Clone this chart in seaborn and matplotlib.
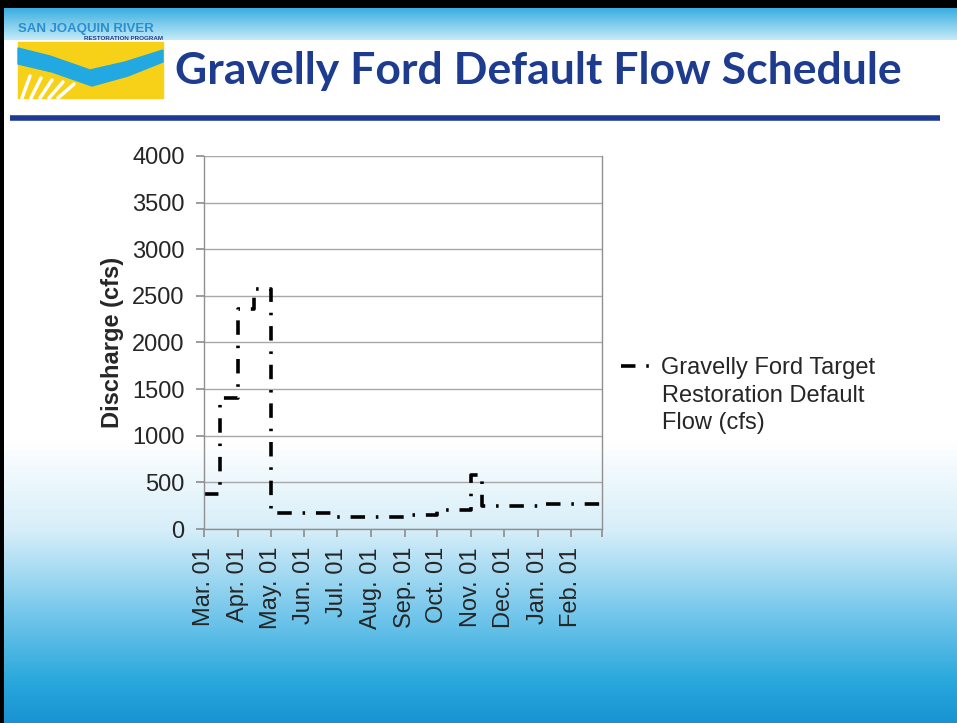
import numpy as np
import pandas as pd
import matplotlib
matplotlib.use("Agg")
import matplotlib.pyplot as plt
import seaborn as sns
from matplotlib.patches import Rectangle, Polygon

# ---------------- data ----------------
seg_starts = ["2001-03-01", "2001-03-16", "2001-04-01", "2001-04-16", "2001-05-01",
              "2001-07-01", "2001-09-01", "2001-10-01", "2001-11-01", "2001-11-11",
              "2002-01-01", "2002-03-01"]
flow_cfs = [375, 1400, 2360, 2570, 175, 130, 150, 205, 580, 245, 265, 265]
tick_labels = ["Mar. 01", "Apr. 01", "May. 01", "Jun. 01", "Jul. 01", "Aug. 01",
               "Sep. 01", "Oct. 01", "Nov. 01", "Dec. 01", "Jan. 01", "Feb. 01", ""]
tick_dates = ["2001-03-01", "2001-04-01", "2001-05-01", "2001-06-01", "2001-07-01",
              "2001-08-01", "2001-09-01", "2001-10-01", "2001-11-01", "2001-12-01",
              "2002-01-01", "2002-02-01", "2002-03-01"]
series_lines = ["Gravelly Ford Target", "Restoration Default", "Flow (cfs)"]

start = pd.Timestamp("2001-03-01")
df = pd.DataFrame({
    "day": (pd.to_datetime(seg_starts) - start).days,
    "flow": flow_cfs,
})
tick_pos = (pd.to_datetime(tick_dates) - start).days

# ---------------- figure ----------------
sns.set_theme(style="white")
plt.rcParams["font.family"] = ["Liberation Sans", "DejaVu Sans"]
FS = 17

W, H = 957, 723
fig = plt.figure(figsize=(W / 100, H / 100), dpi=100)

# background slide
bg = fig.add_axes([0, 0, 1, 1], zorder=-5)
img = np.ones((H, 1, 3))
def lerp(c1, c2, t):
    return np.array(c1) + (np.array(c2) - np.array(c1)) * t
top_c1 = np.array([0x3a, 0xae, 0xe0]) / 255
top_c2 = np.array([0xc8, 0xec, 0xf8]) / 255
stops = [(440, (1, 1, 1)), (530, (0xd6 / 255, 0xee / 255, 0xf9 / 255)),
         (610, (0x78 / 255, 0xc8 / 255, 0xec / 255)),
         (680, (0x2a / 255, 0xa8 / 255, 0xdc / 255)), (723, (0x18 / 255, 0x92 / 255, 0xd2 / 255))]
for y in range(H):
    if 8 <= y < 40:
        img[y, 0] = lerp(top_c1, top_c2, (y - 8) / 32)
    elif y >= 440:
        for (y0, c0), (y1, c1) in zip(stops[:-1], stops[1:]):
            if y0 <= y <= y1:
                img[y, 0] = lerp(c0, c1, (y - y0) / (y1 - y0))
                break
img = np.repeat(img, W, axis=1)
img[:8, :, :] = 0
img[:, :4, :] = 0
bg.imshow(img, aspect="auto", extent=[0, W, H, 0])
bg.set_xlim(0, W)
bg.set_ylim(H, 0)
bg.axis("off")

# logo
bg.add_patch(Rectangle((18, 42), 145, 56, color="#f7d117", zorder=2))
wave = Polygon([(18, 48), (50, 56), (90, 70), (125, 62), (163, 50), (163, 62),
                (128, 76), (92, 86), (52, 72), (18, 64)], closed=True,
               color="#23a9e1", zorder=3)
bg.add_patch(wave)
for i in range(5):
    bg.plot([22 + i * 9, 30 + i * 11], [98, 76 + i * 2], color="white", lw=2.5, zorder=3)
bg.text(18, 32, "SAN JOAQUIN RIVER", color="#2a8fd0", fontsize=9.5, fontweight="bold",
        ha="left", va="baseline", family=["Liberation Sans Narrow", "Liberation Sans"], zorder=4)
bg.text(163, 40, "RESTORATION PROGRAM", color="#1d3c8f", fontsize=4.5, fontweight="bold",
        ha="right", va="baseline", family=["Liberation Sans Narrow", "Liberation Sans"], zorder=4)

# title and rule
bg.text(175, 84, "Gravelly Ford Default Flow Schedule", color="#1d3c8f", fontsize=32,
        fontweight="bold", ha="left", va="baseline", family=["Lato", "DejaVu Sans"])
bg.plot([10, 940], [118, 118], color="#1f3a93", lw=4, solid_capstyle="butt")

# ---------------- chart ----------------
ax = fig.add_axes([204 / W, 1 - 529 / H, (602 - 204) / W, (529 - 156) / H])
ax.patch.set_alpha(0)
sns.lineplot(data=df, x="day", y="flow", ax=ax, color="black", lw=2.6,
             drawstyle="steps-post", linestyle=(0, (4, 3, 0.7, 3)),
             label=series_lines[0], legend=False)

ax.set_xlim(0, 365)
ax.set_ylim(0, 4000)
ax.set_yticks(np.arange(0, 4001, 500))
ax.set_xticks(tick_pos)
ax.set_xticklabels(tick_labels, rotation=90, fontsize=FS)
ax.tick_params(axis="y", labelsize=FS, length=6, color="#909090", direction="out", pad=8, left=True)
ax.tick_params(axis="x", length=6, color="#909090", direction="out", pad=7, bottom=True)
ax.grid(axis="y", color="#a8a8a8", lw=1)
ax.grid(axis="x", visible=False)
for s in ["left", "bottom", "right"]:
    ax.spines[s].set_color("#909090")
    ax.spines[s].set_linewidth(1)
ax.spines["top"].set_visible(False)
ax.set_xlabel("")
ax.set_ylabel("Discharge (cfs)", fontsize=FS, fontweight="bold", labelpad=6)

leg = fig.legend(handles=ax.get_lines()[:1], labels=[series_lines[0]], loc="center left",
                 bbox_to_anchor=(621 / W, 1 - 368 / H), frameon=False, fontsize=FS,
                 handlelength=1.6, handletextpad=0.08, borderaxespad=0, borderpad=0)
fig.text(662 / W, 1 - 402 / H, series_lines[1], fontsize=FS, ha="left", va="baseline")
fig.text(662 / W, 1 - 429 / H, series_lines[2], fontsize=FS, ha="left", va="baseline")

fig.savefig("out.png", dpi=100)
